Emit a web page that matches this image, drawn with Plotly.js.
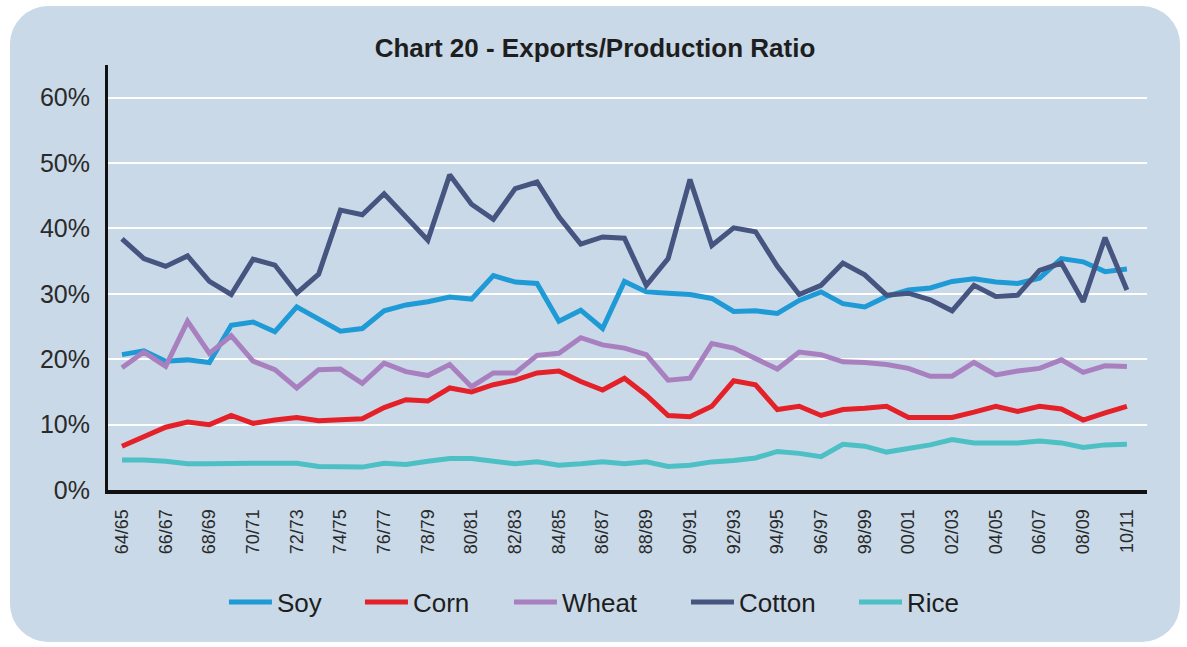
<!DOCTYPE html>
<html>
<head>
<meta charset="utf-8">
<script src="https://cdn.plot.ly/plotly-3.0.1.min.js"></script>
<style>
html, body { margin: 0; padding: 0; background: #ffffff; width: 1187px; height: 647px; overflow: hidden; }
#panel { position: absolute; left: 10px; top: 6px; width: 1170px; height: 636px; border-radius: 38px; overflow: hidden; background: #c9d9e7; }
#chart { width: 1170px; height: 636px; }
</style>
</head>
<body>
<div id="panel"><div id="chart"></div></div>
<script>
const years = ["64/65","65/66","66/67","67/68","68/69","69/70","70/71","71/72","72/73","73/74",
  "74/75","75/76","76/77","77/78","78/79","79/80","80/81","81/82","82/83","83/84",
  "84/85","85/86","86/87","87/88","88/89","89/90","90/91","91/92","92/93","93/94",
  "94/95","95/96","96/97","97/98","98/99","99/00","00/01","01/02","02/03","03/04",
  "04/05","05/06","06/07","07/08","08/09","09/10","10/11"];

const tickLabels = ["64/65","66/67","68/69","70/71","72/73","74/75","76/77","78/79","80/81","82/83",
  "84/85","86/87","88/89","90/91","92/93","94/95","96/97","98/99","00/01","02/03","04/05","06/07","08/09","10/11"];

const soy = [20.7, 21.3, 19.7, 19.9, 19.5, 25.2, 25.7, 24.2, 28.0, 26.2, 24.3, 24.7, 27.4, 28.3, 28.8, 29.5,
  29.2, 32.8, 31.8, 31.6, 25.8, 27.5, 24.7, 31.9, 30.3, 30.1, 29.9, 29.3, 27.3, 27.4, 27.0, 29.0,
  30.3, 28.5, 28.0, 29.6, 30.6, 30.9, 31.9, 32.3, 31.8, 31.6, 32.4, 35.4, 34.9, 33.4, 33.8];

const corn = [6.7, 8.2, 9.6, 10.4, 10.0, 11.4, 10.2, 10.7, 11.1, 10.6, 10.7, 10.9, 12.6, 13.8, 13.6, 15.6,
  15.0, 16.1, 16.8, 17.9, 18.2, 16.6, 15.3, 17.1, 14.5, 11.4, 11.2, 12.8, 16.7, 16.1, 12.3, 12.8,
  11.4, 12.3, 12.5, 12.8, 11.1, 11.1, 11.1, 11.9, 12.8, 12.0, 12.8, 12.4, 10.7, 11.8, 12.8];

const wheat = [18.7, 21.1, 18.9, 25.8, 20.9, 23.6, 19.7, 18.4, 15.6, 18.4, 18.5, 16.3, 19.4, 18.1, 17.5, 19.2,
  15.8, 17.9, 17.9, 20.6, 20.9, 23.3, 22.2, 21.7, 20.7, 16.8, 17.1, 22.4, 21.7, 20.2, 18.5, 21.1,
  20.7, 19.6, 19.5, 19.2, 18.6, 17.4, 17.4, 19.5, 17.6, 18.2, 18.6, 19.9, 18.0, 19.0, 18.9];

const cotton = [38.4, 35.4, 34.2, 35.8, 31.9, 29.9, 35.3, 34.4, 30.1, 33.0, 42.8, 42.1, 45.3, 41.8, 38.2, 48.2,
  43.7, 41.4, 46.1, 47.1, 41.8, 37.6, 38.7, 38.5, 31.3, 35.4, 47.5, 37.4, 40.1, 39.5, 34.2, 29.9,
  31.3, 34.7, 32.9, 29.8, 30.1, 29.1, 27.4, 31.3, 29.6, 29.8, 33.6, 34.7, 28.8, 38.6, 30.6];

const rice = [4.6, 4.6, 4.4, 4.0, 4.0, 4.1, 4.1, 4.1, 4.1, 3.6, 3.5, 3.5, 4.1, 3.9, 4.4, 4.8,
  4.8, 4.4, 4.0, 4.3, 3.8, 4.0, 4.3, 4.0, 4.3, 3.6, 3.8, 4.3, 4.5, 4.9, 5.9, 5.6,
  5.1, 7.0, 6.7, 5.8, 6.3, 6.9, 7.7, 7.2, 7.2, 7.2, 7.5, 7.2, 6.5, 6.9, 7.0];

const seriesNames = ["Soy", "Corn", "Wheat", "Cotton", "Rice"];
const seriesValues = [soy, corn, wheat, cotton, rice];
const seriesColors = ["#1e9ad6", "#e42128", "#a880c0", "#465480", "#4cc0c4"];

const legendIds = ["legend", "legend2", "legend3", "legend4", "legend5"];
const legendX = [0.1116, 0.2425, 0.3859, 0.5563, 0.7180];

const traces = seriesNames.map((name, k) => ({
  type: "scatter",
  mode: "lines",
  name: name,
  x: years,
  y: seriesValues[k],
  line: { color: seriesColors[k], width: 5 },
  legend: legendIds[k],
  hoverinfo: "skip"
}));

const fontFam = "Liberation Sans, Arial, Helvetica, sans-serif";

const layout = {
  width: 1170,
  height: 636,
  paper_bgcolor: "rgba(0,0,0,0)",
  plot_bgcolor: "rgba(0,0,0,0)",
  margin: { l: 98, r: 33, t: 59, b: 152, pad: 0 },
  font: { family: fontFam, color: "#262626" },
  title: {
    text: "<b>Chart 20 - Exports/Production Ratio</b>",
    font: { family: fontFam, size: 26, color: "#1e1e1e" },
    xref: "container", x: 0.5, xanchor: "center",
    yref: "container", y: 1 - 42 / 636, yanchor: "middle"
  },
  xaxis: {
    type: "category",
    categoryorder: "array",
    categoryarray: years,
    range: [-0.64, 46.92],
    tickmode: "array",
    tickvals: tickLabels,
    ticktext: tickLabels,
    tickangle: -90,
    tickfont: { family: fontFam, size: 18, color: "#2a2a2a" },
    ticks: "",
    ticklabelstandoff: 8,
    showgrid: false,
    zeroline: false,
    showline: true,
    linecolor: "#111111",
    linewidth: 4,
    fixedrange: true
  },
  yaxis: {
    range: [0, 65],
    tickvals: [0, 10, 20, 30, 40, 50, 60],
    ticktext: ["0%", "10%", "20%", "30%", "40%", "50%", "60%"],
    tickfont: { family: fontFam, size: 25, color: "#2a2a2a" },
    ticks: "",
    ticklabelstandoff: 10,
    showgrid: true,
    gridcolor: "#ffffff",
    gridwidth: 2,
    zeroline: false,
    showline: true,
    linecolor: "#111111",
    linewidth: 3,
    fixedrange: true
  },
  showlegend: true
};

legendIds.forEach((id, k) => {
  layout[id] = {
    orientation: "h",
    x: legendX[k], xanchor: "left",
    y: -0.2635, yanchor: "middle",
    font: { family: fontFam, size: 26, color: "#1e1e1e" },
    bgcolor: "rgba(0,0,0,0)",
    itemwidth: 43
  };
});

Plotly.newPlot("chart", traces, layout, { displayModeBar: false, staticPlot: true });
</script>
</body>
</html>
